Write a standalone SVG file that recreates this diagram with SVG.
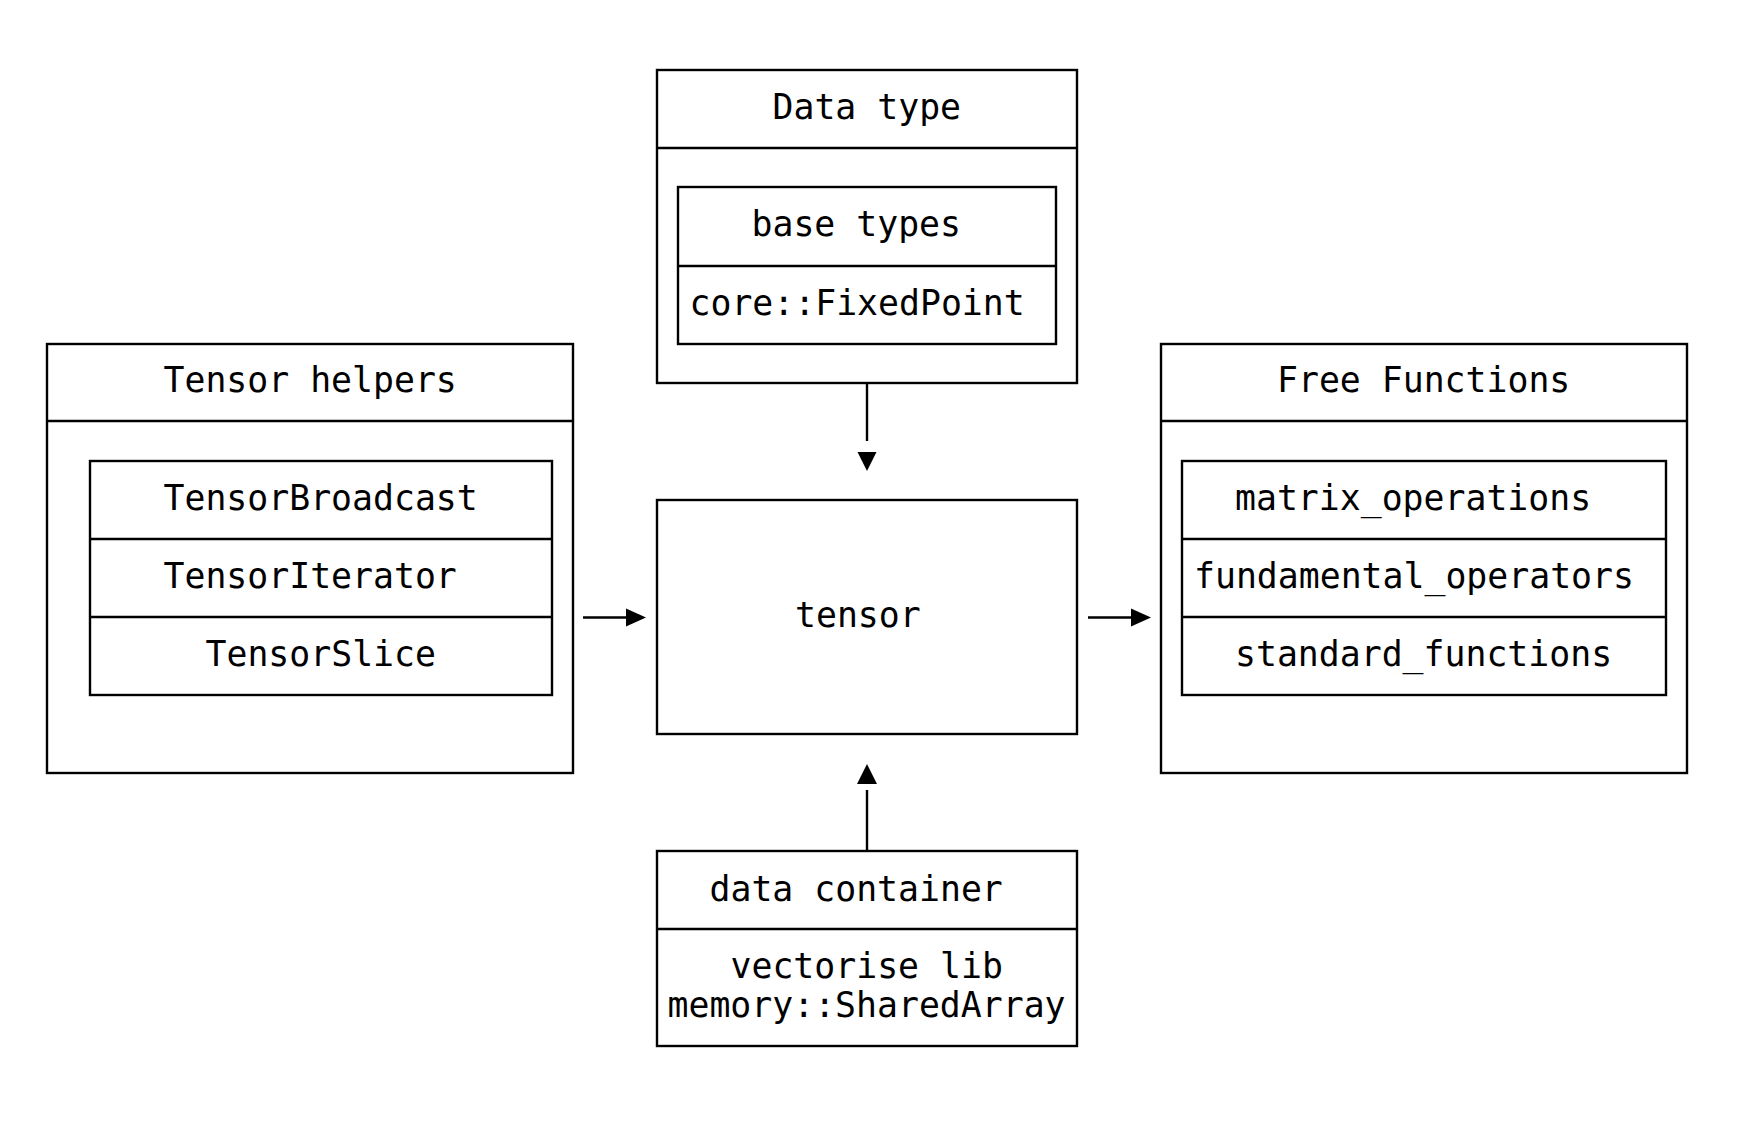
<svg xmlns="http://www.w3.org/2000/svg" width="1738" height="1126" viewBox="0 0 1738 1126">
<style>
.box{fill:none;stroke:#000;stroke-width:2.4}
.div{stroke:#000;stroke-width:2.4}
.t{font-family:"DejaVu Sans Mono","Liberation Mono",monospace;font-size:34.8px;fill:#000}
.edge{stroke:#000;stroke-width:2.4;fill:none}
.head{fill:#000}
</style>
<rect width="1738" height="1126" fill="#fff"/>
<g id="data-type">
<rect class="box" x="657" y="70" width="420" height="313"/>
<line class="div" x1="657" y1="148" x2="1077" y2="148"/>
<text class="t" x="772.5" y="119">Data type</text>
<rect class="box" x="678" y="187" width="378" height="157"/>
<line class="div" x1="678" y1="266" x2="1056" y2="266"/>
<text class="t" x="751.5" y="236">base types</text>
<text class="t" x="689.5" y="314.5">core::FixedPoint</text>
</g>
<g id="tensor-helpers">
<rect class="box" x="47" y="344" width="526" height="429"/>
<line class="div" x1="47" y1="421" x2="573" y2="421"/>
<text class="t" x="163.5" y="392">Tensor helpers</text>
<rect class="box" x="90" y="461" width="462" height="234"/>
<line class="div" x1="90" y1="539" x2="552" y2="539"/>
<line class="div" x1="90" y1="617" x2="552" y2="617"/>
<text class="t" x="163.5" y="510">TensorBroadcast</text>
<text class="t" x="163.5" y="588">TensorIterator</text>
<text class="t" x="205.5" y="666">TensorSlice</text>
</g>
<g id="tensor">
<rect class="box" x="657" y="500" width="420" height="234"/>
<text class="t" x="795" y="627">tensor</text>
</g>
<g id="free-functions">
<rect class="box" x="1161" y="344" width="526" height="429"/>
<line class="div" x1="1161" y1="421" x2="1687" y2="421"/>
<text class="t" x="1277" y="392">Free Functions</text>
<rect class="box" x="1182" y="461" width="484" height="234"/>
<line class="div" x1="1182" y1="539" x2="1666" y2="539"/>
<line class="div" x1="1182" y1="617" x2="1666" y2="617"/>
<text class="t" x="1235" y="510">matrix_operations</text>
<text class="t" x="1194" y="588">fundamental_operators</text>
<text class="t" x="1235" y="666">standard_functions</text>
</g>
<g id="data-container">
<rect class="box" x="657" y="851" width="420" height="195"/>
<line class="div" x1="657" y1="929" x2="1077" y2="929"/>
<text class="t" x="709.5" y="900.5">data container</text>
<text class="t" x="730.5" y="978">vectorise lib</text>
<text class="t" x="667.5" y="1017">memory::SharedArray</text>
</g>
<g id="connectors">
<line class="edge" x1="867" y1="383" x2="867" y2="441"/>
<polygon class="head" points="857.5,452 876.5,452 867,471"/>
<line class="edge" x1="867" y1="851" x2="867" y2="790"/>
<polygon class="head" points="857,784 877,784 867,764"/>
<line class="edge" x1="583" y1="617.5" x2="626" y2="617.5"/>
<polygon class="head" points="626,608.5 626,626.5 646,617.5"/>
<line class="edge" x1="1088" y1="617.5" x2="1131" y2="617.5"/>
<polygon class="head" points="1131,608.5 1131,626.5 1151,617.5"/>
</g>
</svg>
